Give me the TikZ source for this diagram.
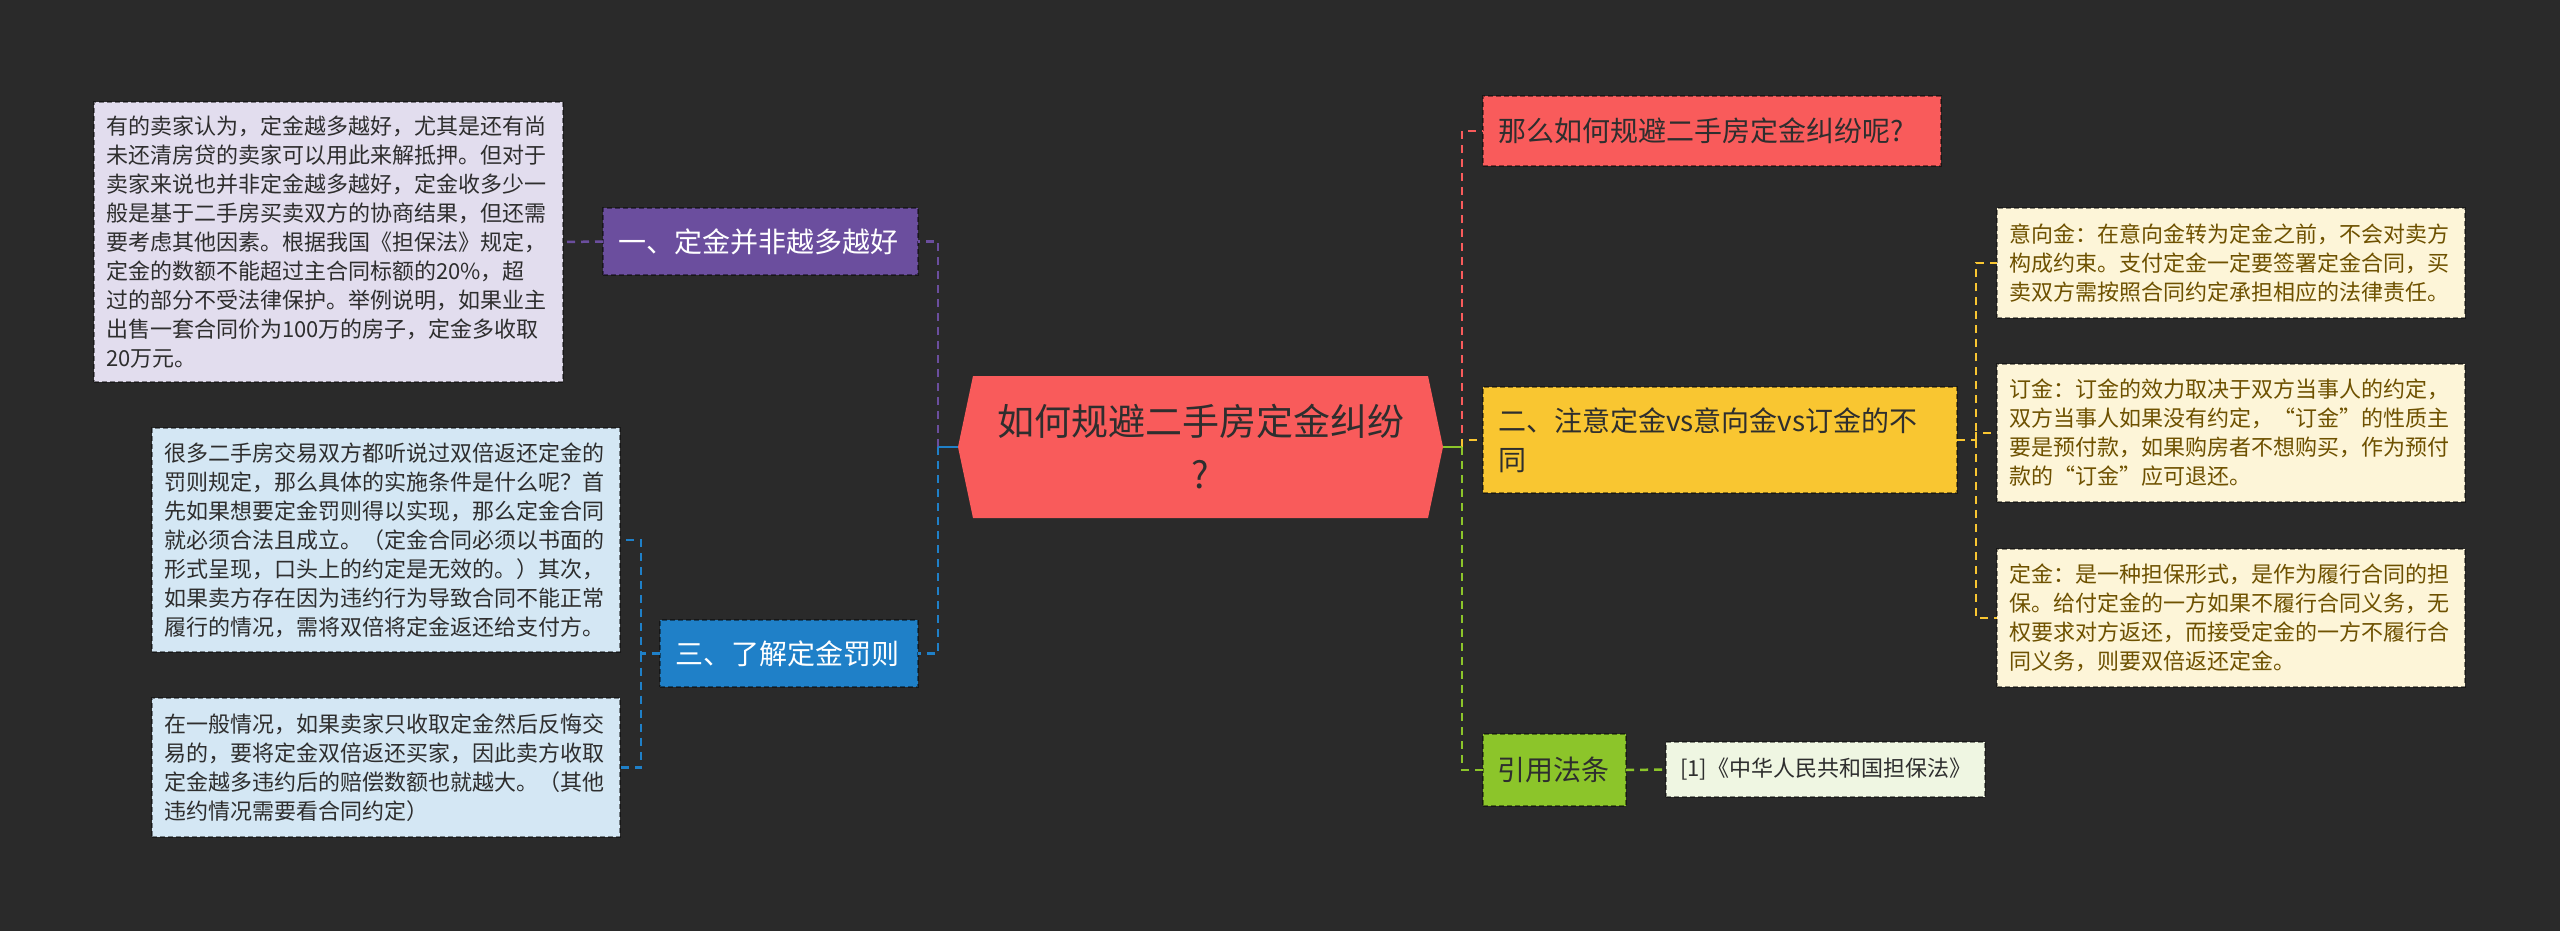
\documentclass[tikz,border=0pt]{standalone}
\usepackage{fontspec}
\setmainfont{Noto Sans CJK SC}
\usetikzlibrary{calc}
\definecolor{bg}{HTML}{2A2A2A}
\definecolor{redC}{HTML}{F95B5B}
\definecolor{purpleC}{HTML}{6B4E9E}
\definecolor{blueC}{HTML}{1F80C8}
\definecolor{yellowC}{HTML}{F9C631}
\definecolor{greenC}{HTML}{8CC52A}
\definecolor{purpleL}{HTML}{E2DDEE}
\definecolor{blueL}{HTML}{D4E7F4}
\definecolor{yellowL}{HTML}{FDF5D8}
\definecolor{greenL}{HTML}{EFF6E2}
\definecolor{darkT}{HTML}{2E2E2E}
\definecolor{brownT}{HTML}{6E5100}
\tikzset{
  box/.style={rectangle, draw=black, draw opacity=0.45, line width=1.5pt,
    dash pattern=on 5pt off 3pt, inner ysep=0pt, outer sep=0pt, align=left,
    anchor=north west},
  detail/.style={box, font=\fontsize{22}{29}\selectfont, inner xsep=12pt, text=darkT},
  topic/.style={box, font=\fontsize{28}{39}\selectfont, inner xsep=15pt},
  conn/.style={line width=2.5pt, dash pattern=on 8pt off 6pt},
  solidconn/.style={line width=2.5pt}
}
\begin{document}
\begin{tikzpicture}[x=1pt,y=-1pt]
\useasboundingbox (0,0) rectangle (2560,931);
\fill[bg] (0,0) rectangle (2560,931);

% central topic
\fill[redC] (958,447) -- (973,376) -- (1428,376) -- (1443,447) -- (1428,518) -- (973,518) -- cycle;
\node[minimum width=485pt, minimum height=142pt, inner sep=0pt, outer sep=0pt,
  align=center, text=darkT, font=\fontsize{37}{53}\selectfont] (root) at (1200.5,447)
  {如何规避二手房定金纠纷\\?};

% left branch
\node[topic, fill=purpleC, text=white, text width=285pt, minimum height=67pt] (t1) at (603,208)
  {一、定金并非越多越好};
\node[detail, fill=purpleL, text width=445pt, minimum height=280pt] (d1) at (94,102)
  {有的卖家认为，定金越多越好，尤其是还有尚\\
   未还清房贷的卖家可以用此来解抵押。但对于\\
   卖家来说也并非定金越多越好，定金收多少一\\
   般是基于二手房买卖双方的协商结果，但还需\\
   要考虑其他因素。根据我国《担保法》规定，\\
   定金的数额不能超过主合同标额的20\%，超\\
   过的部分不受法律保护。举例说明，如果业主\\
   出售一套合同价为100万的房子，定金多收取\\
   20万元。};
\node[topic, fill=blueC, text=white, text width=228pt, minimum height=67pt] (t3) at (660,620)
  {三、了解定金罚则};
\node[detail, fill=blueL, text width=444pt, minimum height=224pt] (d3a) at (152,428)
  {很多二手房交易双方都听说过双倍返还定金的\\
   罚则规定，那么具体的实施条件是什么呢？首\\
   先如果想要定金罚则得以实现，那么定金合同\\
   就必须合法且成立。（定金合同必须以书面的\\
   形式呈现，口头上的约定是无效的。）其次，\\
   如果卖方存在因为违约行为导致合同不能正常\\
   履行的情况，需将双倍将定金返还给支付方。};
\node[detail, fill=blueL, text width=444pt, minimum height=139pt] (d3b) at (152,698)
  {在一般情况，如果卖家只收取定金然后反悔交\\
   易的，要将定金双倍返还买家，因此卖方收取\\
   定金越多违约后的赔偿数额也就越大。（其他\\
   违约情况需要看合同约定）};

% right branch
\node[topic, fill=redC, text=darkT, text width=428pt, minimum height=70pt] (tr) at (1483,96)
  {那么如何规避二手房定金纠纷呢?};
\node[topic, fill=yellowC, text=darkT, text width=444pt, minimum height=106pt] (ty) at (1483,387)
  {二、注意定金vs意向金vs订金的不\\同};
\node[topic, fill=greenC, text=darkT, inner xsep=14pt, text width=115pt, minimum height=72pt] (tg) at (1483,734)
  {引用法条};
\node[detail, fill=yellowL, text=brownT, text width=444pt, minimum height=110pt] (y1) at (1997,208)
  {意向金：在意向金转为定金之前，不会对卖方\\
   构成约束。支付定金一定要签署定金合同，买\\
   卖双方需按照合同约定承担相应的法律责任。};
\node[detail, fill=yellowL, text=brownT, text width=444pt, minimum height=138pt] (y2) at (1997,364)
  {订金：订金的效力取决于双方当事人的约定，\\
   双方当事人如果没有约定，“订金”的性质主\\
   要是预付款，如果购房者不想购买，作为预付\\
   款的“订金”应可退还。};
\node[detail, fill=yellowL, text=brownT, text width=444pt, minimum height=138pt] (y3) at (1997,549)
  {定金：是一种担保形式，是作为履行合同的担\\
   保。给付定金的一方如果不履行合同义务，无\\
   权要求对方返还，而接受定金的一方不履行合\\
   同义务，则要双倍返还定金。};
\node[detail, fill=greenL, inner xsep=14pt, text width=291pt, minimum height=55pt] (cite) at (1666,742)
  {[1]《中华人民共和国担保法》};

% junctions
\coordinate (jl) at ([xshift=-20pt]root.west);
\coordinate (jr) at ([xshift=19pt]root.east);
\coordinate (jb) at ([xshift=-19pt]t3.west);
\coordinate (jy) at ([xshift=19pt]ty.east);

% connectors
\draw[conn, purpleC] (jl) |- (t1.east);
\draw[conn, blueC] (jl) |- (t3.east);
\draw[solidconn, blueC] (root.west) -- (jl);
\draw[conn, purpleC] (t1.west) -- (d1.east);
\draw[conn, blueC] (t3.west) -- (jb) |- (d3a.east);
\draw[conn, blueC] (jb) |- (d3b.east);

\draw[conn, redC] (jr) |- (tr.west);
\draw[conn, yellowC] (jr) |- (ty.west);
\draw[conn, greenC] (jr) |- (tg.west);
\draw[solidconn, greenC] (root.east) -- (jr);
\draw[conn, yellowC] (ty.east) -- (jy) |- (y1.west);
\draw[conn, yellowC] (jy) |- (y2.west);
\draw[conn, yellowC] (jy) |- (y3.west);
\draw[conn, greenC] (tg.east) -- (cite.west);
\end{tikzpicture}
\end{document}
